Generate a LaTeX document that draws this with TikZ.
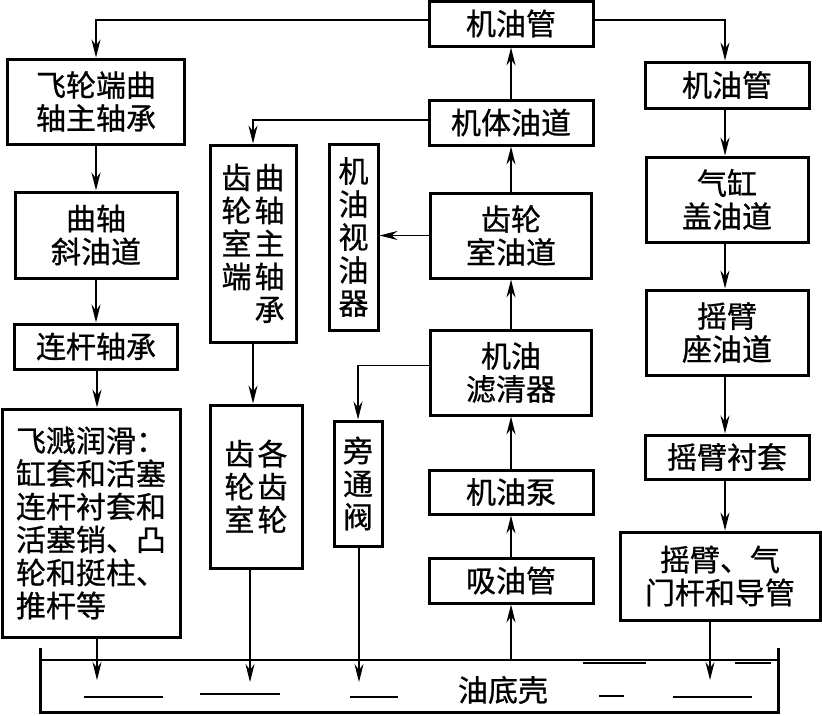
\documentclass[tikz,border=0pt]{standalone}
\usepackage{fontspec}
\setmainfont{Noto Sans CJK SC}[FakeBold=0.8]
\usetikzlibrary{arrows.meta}

\begin{document}
\begin{tikzpicture}[x=1pt, y=-1pt,
    box/.style={draw, line width=3pt, inner sep=0pt, align=center,
      font=\fontsize{30}{33}\selectfont},
    flow/.style={-{Stealth[length=18pt, width=9pt, inset=6pt]}, line width=1.8pt},
    flowthin/.style={flow, line width=1.1pt},
    level/.style={line width=1pt}]
  \useasboundingbox (0,0) rectangle (822,715);

  % centre column
  \node[box, minimum width=164pt, minimum height=45pt] (pipeT) at (511,23.5) {机油管};
  \node[box, minimum width=164pt, minimum height=45pt] (body) at (511,122.5) {机体油道};
  \node[box, minimum width=161pt, minimum height=85pt] (gearp) at (511,235.5) {齿轮\\室油道};
  \node[box, minimum width=161pt, minimum height=85pt] (filter) at (511,372.5) {机油\\滤清器};
  \node[box, minimum width=164pt, minimum height=44pt] (pump) at (511,492) {机油泵};
  \node[box, minimum width=164pt, minimum height=45pt] (suction) at (511,580.5) {吸油管};

  % right column
  \node[box, minimum width=164pt, minimum height=46pt] (pipeR) at (727,85) {机油管};
  \node[box, minimum width=162pt, minimum height=85pt] (head) at (727,199.5) {气缸\\盖油道};
  \node[box, minimum width=162pt, minimum height=85pt] (seat) at (727,332.5) {摇臂\\座油道};
  \node[box, minimum width=164pt, minimum height=44pt] (bush) at (727,457) {摇臂衬套};
  \node[box, minimum width=200pt, minimum height=88pt] (valve) at (720,576) {摇臂、气\\门杆和导管};

  % left column
  \node[box, minimum width=177pt, minimum height=85pt] (flyb) at (96,101.5) {飞轮端曲\\轴主轴承};
  \node[box, minimum width=162pt, minimum height=86pt] (crank) at (96,235) {曲轴\\斜油道};
  \node[box, minimum width=163pt, minimum height=45pt] (rod) at (96,346.5) {连杆轴承};
  \node[box, minimum width=178pt, minimum height=228pt, align=left] (splash) at (91,523)
    {飞溅润滑：\\缸套和活塞\\连杆衬套和\\活塞销、凸\\轮和挺柱、\\推杆等};

  % middle, vertical text
  \node[box, minimum width=86pt, minimum height=197pt, align=left] (gearb) at (253,243.5)
    {齿\hspace{3pt}曲\\轮\hspace{3pt}轴\\室\hspace{3pt}主\\端\hspace{3pt}轴\\\phantom{端}\hspace{3pt}承};
  \node[box, minimum width=49pt, minimum height=186pt] (sight) at (353.5,237)
    {机\\油\\视\\油\\器};
  \node[box, minimum width=92pt, minimum height=163pt, align=left] (gears) at (256,486.5)
    {齿\hspace{3pt}各\\轮\hspace{3pt}齿\\室\hspace{3pt}轮};
  \node[box, minimum width=48pt, minimum height=125pt] (bypass) at (358,483.5)
    {旁\\通\\阀};

  % oil pan
  \draw[line width=3pt] (40,648) -- (40,712) -- (778,712) -- (778,648);
  \draw[line width=1.8pt] (40,660) -- (778,660);
  \node[font=\fontsize{30}{33}\selectfont] (pan) at (503,690) {油底壳};
  \foreach \yy/\xa/\xb/\lw in {697/84/163/1.1, 694/200/280/2, 697/350/398/1.1,
      663/583/646/2, 663/735/771/2, 696/599/624/2, 697/673/752/1.1}
    \draw[line width=\lw pt] (\xa,\yy) -- (\xb,\yy);
  \coordinate (sump) at (511,660);
  \coordinate (dropL) at (97,680);
  \coordinate (dropG) at (250,682);
  \coordinate (dropB) at (359,682);
  \coordinate (dropR) at (710,680);

  % up the centre
  \draw[flow] (sump) -- (suction.south);
  \draw[flow] (suction) -- (pump);
  \draw[flow] (pump) -- (filter);
  \draw[flow] (filter) -- (gearp);
  \draw[flow] (gearp) -- (body);
  \draw[flow] (body) -- (pipeT);

  % branches
  \draw[flowthin] ([yshift=3.5pt]pipeT.west) -| (flyb.north);
  \draw[flowthin] ([yshift=3.5pt]pipeT.east) -| ([xshift=-2pt]pipeR.north);
  \draw[flowthin] ([yshift=2.5pt]body.west) -| (gearb.north);
  \draw[flowthin] (gearp.west) -- (gearp.west -| sight.east);
  \draw[flowthin] ([yshift=7pt]filter.west) -| (bypass.north);

  % left column down
  \draw[flow] (flyb) -- (crank);
  \draw[flow] (crank) -- (rod);
  \draw[flow] ([xshift=1pt]rod.south) -- ([xshift=1pt]rod.south |- splash.north);
  \draw[flowthin] (splash.south -| dropL) -- (dropL);

  % middle down
  \draw[flow] (gearb.south) -- (gearb.south |- gears.north);
  \draw[flowthin] (gears.south -| dropG) -- (dropG);
  \draw[flowthin] (bypass.south -| dropB) -- (dropB);

  % right column down
  \draw[flowthin] ([xshift=-2pt]pipeR.south) -- ([xshift=-2pt]head.north);
  \draw[flowthin] ([xshift=-2pt]head.south) -- ([xshift=-2pt]seat.north);
  \draw[flowthin] ([xshift=-2pt]seat.south) -- ([xshift=-2pt]bush.north);
  \draw[flowthin] ([xshift=-2pt]bush.south) -- ([xshift=-2pt]bush.south |- valve.north);
  \draw[flowthin] (valve.south -| dropR) -- (dropR);
\end{tikzpicture}
\end{document}
